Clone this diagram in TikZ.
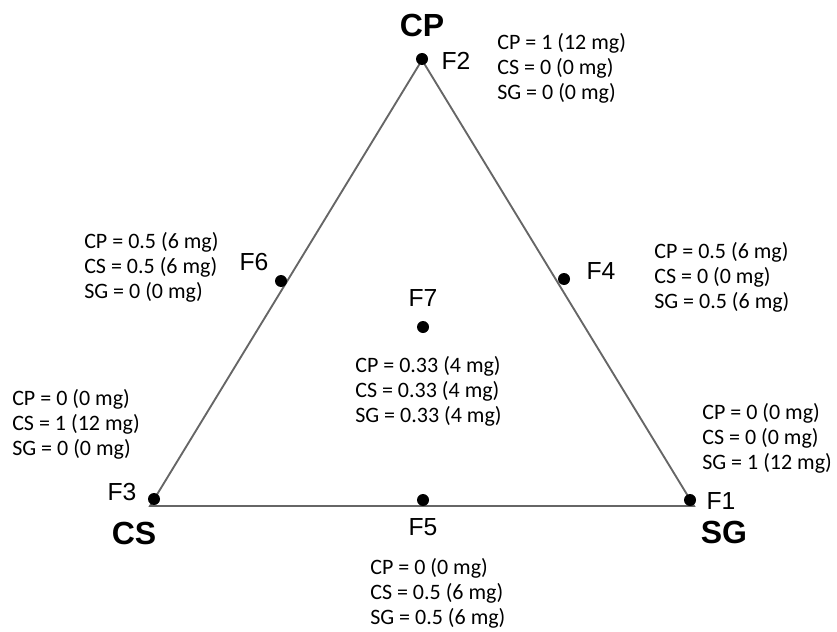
\documentclass[tikz,border=0pt]{standalone}
\usepackage{fontspec}
\setmainfont{Carlito}
\newfontfamily\arialfont{Liberation Sans}
\tikzset{
  edge/.style={draw=black!60,line width=1.4pt},
  dot/.style={circle,fill=black,inner sep=0pt,minimum size=9pt},
  comp/.style={font=\fontsize{16.5}{18.8}\selectfont,align=left,inner sep=0pt},
  tag/.style={font=\arialfont\fontsize{18.5}{20}\selectfont,inner sep=0pt},
  vert/.style={font=\arialfont\bfseries\fontsize{24}{26}\selectfont,inner sep=0pt},
}
\begin{document}
\begin{tikzpicture}[x=0.75pt,y=-0.75pt]
	\useasboundingbox (0,0) rectangle (837,631);
	% corners of the triangle
	\coordinate (cp) at (422,60);
	\coordinate (cs) at (150,506);
	\coordinate (sg) at (694,506);
	\draw[edge] (cp)--(sg)--(cs)--cycle;
	\foreach \n/\x/\y/\t in {vcp/422/25/CP,vcs/134/533/CS,vsg/724/532/SG}\path (\x,\y) node[vert](\n){\t};
	% formulations
	\foreach \n/\x/\y in {f1/690/500,f2/422/59,f3/154/499,f4/564/279,f5/423/500,f6/281/281,f7/423/327}\path (\x,\y) node[dot](\n){};
	\foreach \n/\x/\y/\t in {l1/721/501/F1,l2/456/61/F2,l3/122/492/F3,l4/601/271/F4,l5/423/527/F5,l6/254/262/F6,l7/423/298/F7}\path (\x,\y) node[tag](\n){\t};
	\foreach \n/\x/\y/\a/\b/\c in {c1/702/438/0 (0 mg)/0 (0 mg)/1 (12 mg),c2/497/68/1 (12 mg)/0 (0 mg)/0 (0 mg),c3/12/424/0 (0 mg)/1 (12 mg)/0 (0 mg),c4/654/277/0.5 (6 mg)/0 (0 mg)/0.5 (6 mg),c5/370/593/0 (0 mg)/0.5 (6 mg)/0.5 (6 mg),c6/84/267/0.5 (6 mg)/0.5 (6 mg)/0 (0 mg),c7/355/391/0.33 (4 mg)/0.33 (4 mg)/0.33 (4 mg)}\path (\x,\y) node[comp,anchor=west](\n){CP = \a\\CS = \b\\SG = \c};
\end{tikzpicture}
\end{document}
